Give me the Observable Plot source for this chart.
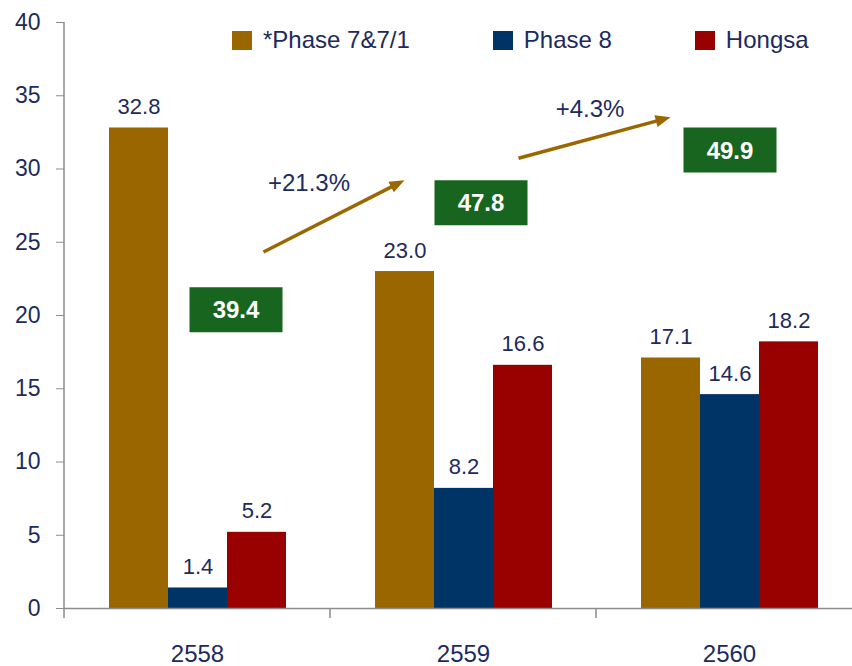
<!DOCTYPE html>
<html><head><meta charset="utf-8">
<script src="https://cdn.jsdelivr.net/npm/d3@7"></script>
<script src="https://cdn.jsdelivr.net/npm/@observablehq/plot@0.6"></script>
<style>
body{margin:0;background:#fff;font-family:"Liberation Sans",Arial,sans-serif;}
#wrap{position:relative;width:852px;height:666px;overflow:hidden;}
#legend{position:absolute;left:232px;top:28px;display:flex;gap:83px;font-size:24px;color:#1d2b5c;line-height:24px;z-index:2;}
.item{display:flex;align-items:center;white-space:nowrap;}
.sw{width:20px;height:19px;margin-right:11px;}
</style></head><body><div id="wrap"><div id="legend"></div></div>
<script>
// ---- data ----
const years = ["2558", "2559", "2560"];
const seriesNames = ["*Phase 7&7/1", "Phase 8", "Hongsa"];
const phase7 = [32.8, 23.0, 17.1];
const phase8 = [1.4, 8.2, 14.6];
const hongsa = [5.2, 16.6, 18.2];
const totals = [39.4, 47.8, 49.9];
const growthLabels = ["+21.3%", "+4.3%"];
const yTicks = [0, 5, 10, 15, 20, 25, 30, 35, 40];

// ---- styles / annotation layout ----
const colors = ["#996600", "#003366", "#990000"];
const navy = "#1d2b5c";
const gray = "#8c8c8c";
const green = "#17651f";
const arrowColor = "#9a6700";
const boxLayout = [
  {anchor: "Phase 8", dx: 38, y: 20.4},
  {anchor: "Phase 8", dx: 17, y: 27.7},
  {anchor: "Phase 8", dx: 0, y: 31.3}
];
const growthLayout = [
  {year: "2558", anchor: "Hongsa", dx: 52, y: 29.0},
  {year: "2559", anchor: "Hongsa", dx: 67, y: 34.1}
];
const arrowLayout = [
  {y1: "2558", s1: "Hongsa", v1: 24.3, d1: 7, y2: "2559", s2: "*Phase 7&7/1", v2: 29.2},
  {y1: "2559", s1: "Hongsa", v1: 30.7, d1: -4, y2: "2560", s2: "*Phase 7&7/1", v2: 33.5}
];

const seriesValues = [phase7, phase8, hongsa];
const rows = years.flatMap((year, i) =>
  seriesNames.map((s, j) => ({year, series: s, value: seriesValues[j][i]})));

const rectSymbol = {draw(ctx) { ctx.rect(-46.5, -22.5, 93, 45); }};

const boxMarks = totals.flatMap((t, i) => {
  const L = boxLayout[i];
  const d = [{year: years[i], total: t}];
  return [
    Plot.dot(d, {fx: "year", x: () => L.anchor, y: () => L.y, dx: L.dx, r: 10, symbol: rectSymbol, fill: green, stroke: "none"}),
    Plot.text(d, {fx: "year", x: () => L.anchor, y: () => L.y, dx: L.dx, dy: 1, text: (d) => d.total.toFixed(1), fill: "white", fontWeight: "bold", fontSize: 24})
  ];
});

const growthMarks = growthLabels.map((g, i) => {
  const L = growthLayout[i];
  return Plot.text([{year: L.year, label: g}], {fx: "year", x: () => L.anchor, y: () => L.y, dx: L.dx, text: "label", fill: navy, fontSize: 24});
});

const chart = Plot.plot({
  width: 852,
  height: 666,
  marginTop: 22,
  marginBottom: 58,
  marginLeft: 64,
  marginRight: -10,
  style: {fontFamily: "'Liberation Sans', Arial, sans-serif", background: "white"},
  fx: {domain: years, padding: 0, label: null},
  x: {domain: seriesNames, paddingInner: 0, paddingOuter: 0.754, axis: null},
  y: {domain: [0, 40], label: null},
  color: {domain: seriesNames, range: colors},
  marks: [
    Plot.barY(rows, {fx: "year", x: "series", y: "value", fill: "series"}),
    Plot.ruleY([0], {stroke: gray, strokeWidth: 1.5}),
    Plot.text(rows, {fx: "year", x: "series", y: "value", text: (d) => d.value.toFixed(1), dy: -14, lineAnchor: "bottom", fill: navy, fontSize: 22}),
    Plot.axisY({ticks: yTicks, tickSize: 8, tickPadding: 16, fontSize: 23, stroke: gray, fill: navy, label: null}),
    Plot.axisFx({anchor: "bottom", tickSize: 0, tickPadding: 36, fontSize: 24, fill: navy, label: null}),
    ...boxMarks,
    ...growthMarks
  ]
});

document.getElementById("wrap").appendChild(chart);

// legend
const legend = d3.select("#legend");
seriesNames.forEach((s, i) => {
  const it = legend.append("div").attr("class", "item");
  it.append("div").attr("class", "sw").style("background", colors[i]);
  it.append("span").text(s);
});

// overlays drawn through Plot's scales
const fxS = chart.scale("fx"), xS = chart.scale("x"), yS = chart.scale("y");
const xbw = xS.bandwidth ?? 0;
const fbw = fxS.bandwidth ?? 0;
const px = (yr, s) => fxS.apply(yr) + (xS.apply(s) - xS.range[0]) + xbw / 2;
const svg = d3.select(chart);
const g = svg.append("g");
// y axis line
g.append("line")
  .attr("x1", fxS.apply(years[0])).attr("x2", fxS.apply(years[0]))
  .attr("y1", yS.apply(0)).attr("y2", yS.apply(40))
  .attr("stroke", gray).attr("stroke-width", 1.5);
// category separators
[...years.map((yr) => fxS.apply(yr)), fxS.apply(years[years.length - 1]) + fbw].forEach((xv) => {
  g.append("line").attr("x1", xv).attr("x2", xv)
    .attr("y1", yS.apply(0)).attr("y2", yS.apply(0) + 10)
    .attr("stroke", gray).attr("stroke-width", 1.5);
});
// arrows
arrowLayout.forEach((a) => {
  const x1 = px(a.y1, a.s1) + a.d1, y1 = yS.apply(a.v1);
  const x2 = px(a.y2, a.s2), y2 = yS.apply(a.v2);
  const dx = x2 - x1, dy = y2 - y1, len = Math.hypot(dx, dy);
  const ux = dx / len, uy = dy / len, nx = -uy, ny = ux;
  const L = 15, W = 6;
  const bx = x2 - ux * L, by = y2 - uy * L;
  g.append("line").attr("x1", x1).attr("y1", y1).attr("x2", bx + ux * 2).attr("y2", by + uy * 2)
    .attr("stroke", arrowColor).attr("stroke-width", 3.5);
  g.append("polygon")
    .attr("points", `${x2},${y2} ${bx + nx * W},${by + ny * W} ${bx - nx * W},${by - ny * W}`)
    .attr("fill", arrowColor);
});
</script>
</body></html>
